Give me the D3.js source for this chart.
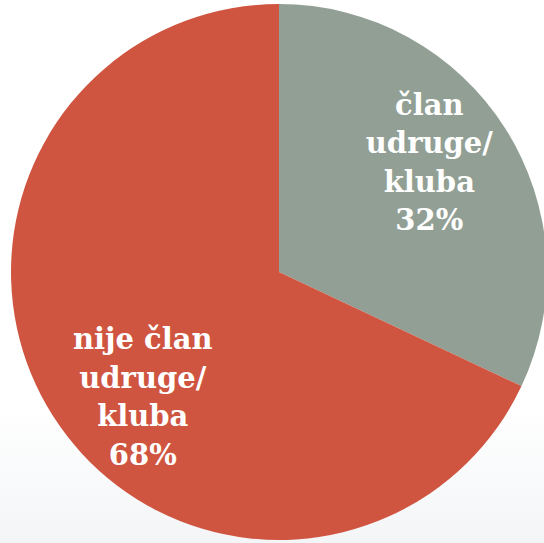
<!DOCTYPE html>
<html><head><meta charset="utf-8">
<script src="https://cdn.jsdelivr.net/npm/d3@7"></script>
<style>html,body{margin:0;padding:0;background:#fff;}svg{display:block;}</style>
</head><body>
<svg id="c" width="544" height="543"></svg>
<script>
const categories = ["član udruge/ kluba", "nije član udruge/ kluba"];
const labelLines = [["član","udruge/","kluba"],["nije član","udruge/","kluba"]];
const values = [32, 68];
const colors = ["#929f95", "#cf5540"];

const svg = d3.select("#c");
const W = 544, H = 543;
const defs = svg.append("defs");
const g1 = defs.append("linearGradient").attr("id","bg").attr("x1",0).attr("y1",0).attr("x2",0).attr("y2",1);
g1.append("stop").attr("offset","0.75").attr("stop-color","#ffffff");
g1.append("stop").attr("offset","1").attr("stop-color","#f3f5f7");
svg.append("rect").attr("width",W).attr("height",H).attr("fill","url(#bg)");

const cx = 279, cy = 272, r = 268;
const pie = d3.pie().sort(null).value(d => d)(values);
const arc = d3.arc().innerRadius(0).outerRadius(r);
const g = svg.append("g").attr("transform", `translate(${cx},${cy})`);
g.selectAll("path").data(pie).join("path")
  .attr("d", arc).attr("fill", (d,i) => colors[i]);

const offsets = [[0,-4],[-2,50]];
const lh = 38.5;
pie.forEach((d,i) => {
  const a = (d.startAngle + d.endAngle)/2;
  const rr = i === 0 ? 178 : 159;
  const x = Math.sin(a)*rr + offsets[i][0];
  const y = -Math.cos(a)*rr + offsets[i][1];
  const lines = labelLines[i].concat([d3.format(".0f")(values[i]) + "%"]);
  const t = g.append("text")
    .attr("text-anchor","middle")
    .attr("font-family","'DejaVu Serif', serif")
    .attr("font-weight","bold")
    .attr("font-size", 29)
    .attr("fill","#fff");
  lines.forEach((ln, k) => {
    t.append("tspan").attr("x", x).attr("y", y + (k - (lines.length-1)/2)*lh).text(ln);
  });
});
</script>
</body></html>
